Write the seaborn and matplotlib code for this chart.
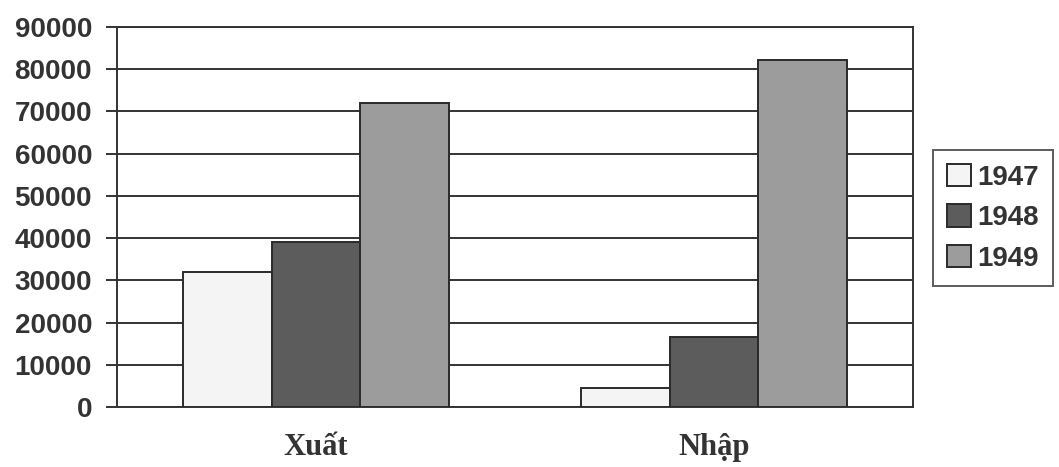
import matplotlib
matplotlib.use("Agg")
import pandas as pd
import matplotlib.pyplot as plt
import seaborn as sns

# values
categories = ["Xuất", "Nhập"]
years = ["1947", "1948", "1949"]
values_1947 = [32000, 4600]
values_1948 = [39000, 16500]
values_1949 = [72000, 82300]
y_ticks = list(range(0, 90001, 10000))

df = pd.DataFrame(
    {
        "category": categories * 3,
        "year": [y for y in years for _ in categories],
        "value": values_1947 + values_1948 + values_1949,
    }
)

sns.set_theme(style="white")
plt.rcParams["font.family"] = ["Liberation Sans", "DejaVu Sans"]

palette = {"1947": "#f4f4f4", "1948": "#5c5c5c", "1949": "#9c9c9c"}

fig = plt.figure(figsize=(10.59, 4.67), dpi=100)
ax = fig.add_axes([117 / 1059, 1 - 407 / 467, (913 - 117) / 1059, (407 - 27) / 467])

sns.barplot(
    data=df,
    x="category",
    y="value",
    hue="year",
    order=categories,
    hue_order=years,
    palette=palette,
    width=0.67,
    gap=0,
    edgecolor="#2a2a2a",
    linewidth=1.4,
    saturation=1,
    ax=ax,
    zorder=3,
)

ax.set_ylim(0, 90000)
ax.set_xlim(-0.5, 1.5)
ax.set_yticks(y_ticks)
ax.set_yticklabels([str(t) for t in y_ticks], fontsize=20, fontweight="bold", color="#333333")
ax.yaxis.grid(True, color="#333333", linewidth=1.4, zorder=0)
ax.set_axisbelow(True)

ax.set_xticks([0, 1])
ax.set_xticklabels(categories, fontsize=22, fontweight="bold",
                   family=["Liberation Serif", "DejaVu Serif"], color="#333333")
ax.set_xticks([-0.5, 0.5, 1.5], minor=True)
ax.tick_params(axis="x", which="major", length=0, pad=19)
ax.tick_params(axis="x", which="minor", length=8, width=1.4, color="#333333", direction="out")
ax.tick_params(axis="y", length=8, width=1.4, color="#333333", direction="out", left=True, pad=10)
ax.set_xlabel("")
ax.set_ylabel("")

for s in ax.spines.values():
    s.set_color("#333333")
    s.set_linewidth(1.4)

leg = ax.legend(
    title=None,
    loc="upper left",
    bbox_to_anchor=(933 / 1059, 1 - 150 / 467),
    bbox_transform=fig.transFigure,
    frameon=True,
    fancybox=False,
    edgecolor="#333333",
    prop={"size": 20, "weight": "bold"},
    handlelength=0.85,
    handleheight=0.85,
    handletextpad=0.25,
    labelspacing=0.5,
    borderpad=0.5,
    borderaxespad=0,
)
leg.get_frame().set_linewidth(1.4)
for t in leg.get_texts():
    t.set_color("#333333")

fig.savefig("out.png", dpi=100)
